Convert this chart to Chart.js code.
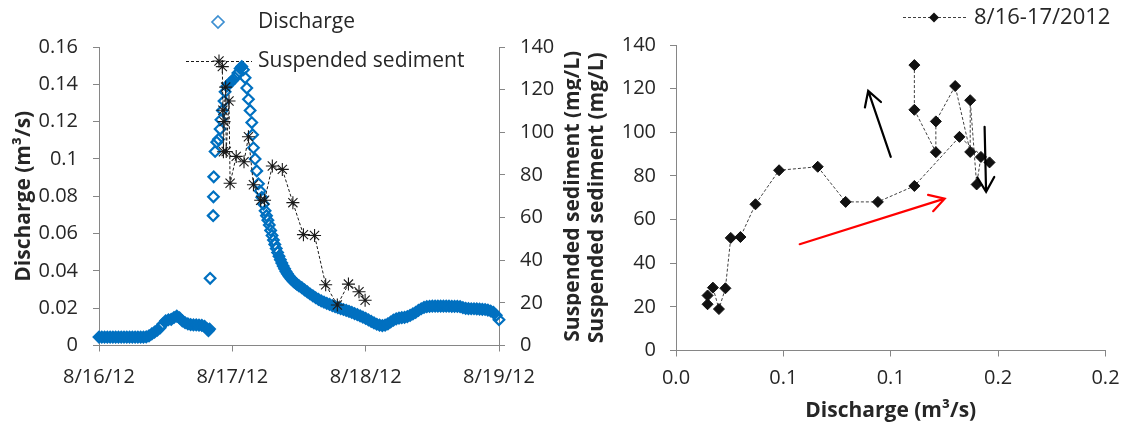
<!DOCTYPE html>
<html>
<head>
<meta charset="utf-8">
<script src="https://cdn.jsdelivr.net/npm/chart.js@4/dist/chart.umd.min.js"></script>
<style>
  html, body { margin: 0; padding: 0; background: #fff; }
  #wrap { position: relative; width: 1130px; height: 428px; overflow: hidden; background: #fff; }
  #hydro { position: absolute; left: 0; top: 0; width: 581px; height: 428px; }
  #loop { position: absolute; left: 581px; top: 0; width: 549px; height: 428px; background: #fff; }
</style>
</head>
<body>
<div id="wrap">
  <canvas id="hydro" width="581" height="428"></canvas>
  <canvas id="loop" width="549" height="428"></canvas>
</div>
<script>
// ---- data -------------------------------------------------------------
// axis tick labels
const dateLabels = ['8/16/12', '8/17/12', '8/18/12', '8/19/12'];
const dischargeTickLabels = ['0.0', '0.1', '0.1', '0.2', '0.2'];

// stream discharge record (hours after 8/16/12 00:00, m3/s)
const dischargeHours = [
  0, 0.5, 1, 1.5, 2, 2.5, 3, 3.5, 4, 4.5, 5, 5.5, 6, 6.5, 7, 7.5, 8, 8.5,
  9, 9.5, 10, 10.5, 11, 11.5, 12, 12.5, 13, 13.5, 14, 14.5, 15, 15.5, 16, 16.5, 17, 17.5, 18, 18.5, 19, 19.4, 19.7, 19.9,
  20.0, 20.55, 20.6, 20.65, 20.9, 21.2, 21.5, 21.8, 21.95, 22.2, 22.5, 22.7, 23.0, 23.5, 24.0, 24.5, 25.0, 25.4,
  25.7, 26.0, 26.3, 26.6, 26.9, 27.2, 27.5, 27.65, 27.8, 28.1, 28.4, 28.7, 29.0, 29.3, 29.6, 29.9,
  30.15, 30.4, 30.65, 30.9, 31.15, 31.4, 31.65, 31.9, 32.15, 32.4, 32.65, 32.9,
  33.15, 33.4, 33.65, 33.9, 34.15, 34.4, 34.65, 34.9, 35.15, 35.4, 35.65,
  36, 36.5, 37, 37.5, 38, 38.5, 39, 39.5, 40, 40.5,
  41, 41.5, 42, 42.5, 43, 43.5, 44, 44.5, 45, 45.5,
  46, 46.5, 47, 47.5, 48, 48.5, 49, 49.5, 50, 50.5,
  51, 51.5, 52, 52.5, 53, 53.5, 54, 54.5, 55, 55.5,
  56, 56.5, 57, 57.5, 58, 58.5, 59, 59.5, 60, 60.5,
  61, 61.5, 62, 62.5, 63, 63.5, 64, 64.5, 65, 65.5,
  66, 66.5, 67, 67.5, 68, 68.5, 69, 69.5, 70, 70.5,
  71, 71.5, 72
];
const dischargeValues = [
  0.0045, 0.0045, 0.0045, 0.0045, 0.0045, 0.0045, 0.0045, 0.0045, 0.0045, 0.0045, 0.0045, 0.0045, 0.0045, 0.0045, 0.0045, 0.0045, 0.0045, 0.0046,
  0.0052, 0.0062, 0.0072, 0.0082, 0.0095, 0.0115, 0.0132, 0.0138, 0.0140, 0.0150, 0.0158, 0.0148, 0.0132, 0.0122, 0.0116, 0.0112, 0.0110, 0.0110, 0.0109, 0.0108, 0.0102, 0.0090, 0.0080, 0.0088,
  0.036, 0.0696, 0.0797, 0.0904, 0.104, 0.109, 0.1105, 0.116, 0.121, 0.126, 0.131, 0.136, 0.139, 0.1405, 0.142, 0.1435, 0.146, 0.1485,
  0.1495, 0.1478, 0.1435, 0.138, 0.132, 0.126, 0.1195, 0.113, 0.106, 0.100, 0.0936, 0.0867, 0.0828, 0.0794, 0.0758, 0.0722,
  0.0696, 0.0672, 0.0646, 0.0617, 0.059, 0.0565, 0.0542, 0.052, 0.0498, 0.0478, 0.0459, 0.0442,
  0.0426, 0.0411, 0.0397, 0.0385, 0.0374, 0.0364, 0.0355, 0.0347, 0.034, 0.0334, 0.0328,
  0.032, 0.031, 0.0298, 0.0287, 0.0276, 0.0266, 0.0256, 0.0247, 0.0239, 0.0232,
  0.0226, 0.022, 0.0214, 0.0208, 0.0203, 0.0198, 0.0193, 0.0188, 0.0183, 0.0177,
  0.0171, 0.0165, 0.0159, 0.0152, 0.0145, 0.0137, 0.0129, 0.0121, 0.0114, 0.0109,
  0.0107, 0.0109, 0.0116, 0.0126, 0.0136, 0.0143, 0.0147, 0.0149, 0.0151, 0.0155,
  0.0161, 0.0169, 0.0178, 0.0188, 0.0197, 0.0204, 0.0208, 0.021, 0.0211, 0.0211,
  0.0211, 0.0211, 0.0211, 0.0211, 0.0211, 0.021, 0.021, 0.021, 0.0208, 0.0203,
  0.0199, 0.0198, 0.0197, 0.0197, 0.0196, 0.0195, 0.0194, 0.0193, 0.019, 0.0185,
  0.0177, 0.0162, 0.0138
];

// suspended sediment samples: time, discharge at sampling, concentration
const sampleHours = [22.2, 22.3, 22.4, 22.5, 22.8, 22.9, 23.4, 23.6, 24.7, 26.1, 26.9, 27.8,
                     29.1, 29.8, 31.2, 33.0, 34.9, 36.8, 38.8, 40.8, 42.9, 44.9, 46.8, 47.9];
const sampleDischarge = [0.111, 0.111, 0.121, 0.121, 0.130, 0.137, 0.137, 0.140, 0.142, 0.146, 0.132, 0.111,
                         0.094, 0.079, 0.066, 0.048, 0.037, 0.030, 0.0255, 0.023, 0.020, 0.0172, 0.0147, 0.0147];
const sedimentValues = [130.8, 110.3, 90.9, 105.0, 121.2, 91.0, 114.7, 76.1, 88.7, 86.2, 97.9, 75.4,
                        68.1, 68.1, 84.2, 82.6, 67.0, 52.0, 51.6, 28.5, 19.0, 28.8, 25.2, 21.2];

// hysteresis direction arrows (discharge, concentration)
const arrowFrom = [[0.1000, 88.7], [0.0576, 48.7], [0.1437, 102.5]];
const arrowTo   = [[0.0895, 119.0], [0.1251, 69.6], [0.1444, 72.7]];
const arrowColors = ['#000000', '#FF0000', '#000000'];

// ---- styling ------------------------------------------------------------
const FONT = '"Open Sans", "Noto Sans", sans-serif';
const INK = '#262626';
const AXIS = '#868686';
const BLUE = '#0070C0';
const CLEAR = 'rgba(0,0,0,0)';

function axis(extra) {
  return Object.assign({
    type: 'linear',
    border: { display: true, color: AXIS, width: 1 },
    grid: { display: true, drawOnChartArea: false, drawTicks: true, tickLength: 6, color: AXIS, lineWidth: 1 }
  }, extra);
}
function tickOpts(extra) {
  return Object.assign({ color: INK, font: { family: FONT, size: 20 }, maxRotation: 0, autoSkip: false }, extra);
}

// hollow diamonds merge into a solid band where readings crowd together
function dischargeFill(c) {
  const i = c.dataIndex, v = dischargeValues, n = v.length;
  const dPrev = i > 0 ? Math.abs(v[i] - v[i - 1]) : 0;
  const dNext = i < n - 1 ? Math.abs(v[i + 1] - v[i]) : 0;
  return Math.max(dPrev, dNext) < 0.002 ? BLUE : CLEAR;
}

function rotatedTitle(ctx, text, x, y) {
  ctx.save();
  ctx.translate(x, y);
  ctx.rotate(-Math.PI / 2);
  ctx.textAlign = 'center';
  ctx.textBaseline = 'alphabetic';
  ctx.fillText(text, 0, 0);
  ctx.restore();
}
function diamond(ctx, x, y, r) {
  ctx.beginPath();
  ctx.moveTo(x, y - r); ctx.lineTo(x + r, y); ctx.lineTo(x, y + r); ctx.lineTo(x - r, y);
  ctx.closePath();
}
function star(ctx, x, y, r) {
  ctx.beginPath();
  for (let k = 0; k < 4; k++) {
    const a = k * Math.PI / 4;
    ctx.moveTo(x - r * Math.cos(a), y - r * Math.sin(a));
    ctx.lineTo(x + r * Math.cos(a), y + r * Math.sin(a));
  }
  ctx.stroke();
}
function dashed(ctx, x0, x1, y, color) {
  ctx.save();
  ctx.strokeStyle = color; ctx.lineWidth = 1; ctx.setLineDash([3, 2]);
  ctx.beginPath(); ctx.moveTo(x0, y + 0.5); ctx.lineTo(x1, y + 0.5); ctx.stroke();
  ctx.restore();
}

// legend + axis titles for the time series panel
const hydroDecor = {
  id: 'hydroDecor',
  beforeDatasetsDraw(chart) {
    const ctx = chart.ctx;
    ctx.save();
    ctx.strokeStyle = '#3d8fd1'; ctx.lineWidth = 1.7;
    diamond(ctx, 218, 22, 6); ctx.stroke();
    dashed(ctx, 186, 252, 61, '#1a1a1a');
    ctx.strokeStyle = '#1a1a1a'; ctx.lineWidth = 1.1;
    star(ctx, 219, 61, 6.5);
    ctx.fillStyle = INK;
    ctx.font = '21px ' + FONT;
    ctx.textAlign = 'left'; ctx.textBaseline = 'middle';
    ctx.fillText('Discharge', 258, 22);
    ctx.fillText('Suspended sediment', 258, 61);
    ctx.restore();
  },
  afterDraw(chart) {
    const ctx = chart.ctx, a = chart.chartArea;
    const cy = (a.top + a.bottom) / 2;
    ctx.save();
    ctx.fillStyle = INK;
    ctx.font = 'bold 21px ' + FONT;
    rotatedTitle(ctx, 'Discharge (m\u00B3/s)', 30, cy);
    rotatedTitle(ctx, 'Suspended sediment (mg/L)', 579, cy);
    ctx.restore();
  }
};

// legend, titles and direction arrows for the hysteresis panel
const loopDecor = {
  id: 'loopDecor',
  afterDatasetsDraw(chart) {
    const ctx = chart.ctx, sx = chart.scales.x, sy = chart.scales.y;
    ctx.save();
    ctx.lineWidth = 2.2; ctx.lineCap = 'round';
    arrowFrom.forEach((f, i) => {
      const t = arrowTo[i];
      const x0 = sx.getPixelForValue(f[0]), y0 = sy.getPixelForValue(f[1]);
      const x1 = sx.getPixelForValue(t[0]), y1 = sy.getPixelForValue(t[1]);
      const ang = Math.atan2(y1 - y0, x1 - x0), L = 17, w = Math.PI / 6;
      ctx.strokeStyle = arrowColors[i];
      ctx.beginPath();
      ctx.moveTo(x0, y0); ctx.lineTo(x1, y1);
      ctx.moveTo(x1 - L * Math.cos(ang - w), y1 - L * Math.sin(ang - w));
      ctx.lineTo(x1, y1);
      ctx.lineTo(x1 - L * Math.cos(ang + w), y1 - L * Math.sin(ang + w));
      ctx.stroke();
    });
    ctx.restore();
  },
  afterDraw(chart) {
    const ctx = chart.ctx, a = chart.chartArea;
    ctx.save();
    dashed(ctx, 322, 387, 17, '#404040');
    ctx.fillStyle = '#111';
    diamond(ctx, 353, 17.5, 5); ctx.fill();
    ctx.fillStyle = INK;
    ctx.font = '22px ' + FONT;
    ctx.textAlign = 'left'; ctx.textBaseline = 'middle';
    ctx.fillText('8/16-17/2012', 393, 18);
    ctx.font = 'bold 21px ' + FONT;
    rotatedTitle(ctx, 'Suspended sediment (mg/L)', 22, (a.top + a.bottom) / 2);
    ctx.textAlign = 'center'; ctx.textBaseline = 'alphabetic';
    ctx.fillText('Discharge (m\u00B3/s)', (a.left + a.right) / 2, 417);
    ctx.restore();
  }
};

function draw() {
  const dischargeSeries = dischargeHours.map((h, i) => ({ x: h, y: dischargeValues[i] }));
  const sedimentSeries = sampleHours.map((h, i) => ({ x: h, y: sedimentValues[i] }));
  const loopSeries = sampleDischarge.map((q, i) => ({ x: q, y: sedimentValues[i] }));

  new Chart(document.getElementById('hydro'), {
    type: 'scatter',
    data: {
      datasets: [
        {
          label: 'Suspended sediment', data: sedimentSeries, yAxisID: 'ySed', order: 0, clip: false,
          showLine: true, borderColor: '#1a1a1a', borderWidth: 1, borderDash: [3, 2],
          pointStyle: 'star', pointRadius: 6.5, pointBorderWidth: 1.1,
          pointBorderColor: '#1a1a1a', pointBackgroundColor: CLEAR
        },
        {
          label: 'Discharge', data: dischargeSeries, yAxisID: 'yQ', order: 1, clip: false,
          showLine: false, pointStyle: 'rectRot', pointRadius: 5.3, pointBorderWidth: 2.2,
          pointBorderColor: BLUE, pointBackgroundColor: dischargeFill
        }
      ]
    },
    options: {
      responsive: false, animation: false, events: [],
      layout: { padding: { top: 47, right: 0, bottom: 0, left: 0 } },
      plugins: { legend: { display: false }, tooltip: { enabled: false } },
      scales: {
        x: axis({
          position: 'bottom', min: 0, max: 72,
          ticks: tickOpts({ stepSize: 24, padding: 14, callback: (v, i) => dateLabels[i] }),
          afterFit: s => { s.height = 82.5; }
        }),
        yQ: axis({
          position: 'left', min: 0, max: 0.16,
          ticks: tickOpts({ stepSize: 0.02, padding: 15, callback: v => String(Math.round(v * 100) / 100) }),
          afterFit: s => { s.width = 99; }
        }),
        ySed: axis({
          position: 'right', min: 0, max: 140,
          ticks: tickOpts({ stepSize: 20, padding: 15 }),
          afterFit: s => { s.width = 82; }
        })
      }
    },
    plugins: [hydroDecor]
  });

  new Chart(document.getElementById('loop'), {
    type: 'scatter',
    data: {
      datasets: [{
        label: '8/16-17/2012', data: loopSeries, clip: false,
        showLine: true, borderColor: '#404040', borderWidth: 1, borderDash: [3, 2],
        pointStyle: 'rectRot', pointRadius: 5.5, pointBorderWidth: 1,
        pointBorderColor: '#111', pointBackgroundColor: '#111'
      }]
    },
    options: {
      responsive: false, animation: false, events: [],
      layout: { padding: { top: 45, right: 24.5, bottom: 0, left: 0 } },
      plugins: { legend: { display: false }, tooltip: { enabled: false } },
      scales: {
        x: axis({
          position: 'bottom', min: 0, max: 0.2,
          ticks: tickOpts({ stepSize: 0.05, padding: 10, callback: (v, i) => dischargeTickLabels[i] }),
          afterFit: s => { s.height = 77.5; }
        }),
        y: axis({
          position: 'left', min: 0, max: 140,
          ticks: tickOpts({ stepSize: 20, padding: 14 }),
          afterFit: s => { s.width = 95; }
        })
      }
    },
    plugins: [loopDecor]
  });
}

Promise.all([
  document.fonts.load('20px "Open Sans"'),
  document.fonts.load('bold 21px "Open Sans"')
]).then(draw, draw);
</script>
</body>
</html>
